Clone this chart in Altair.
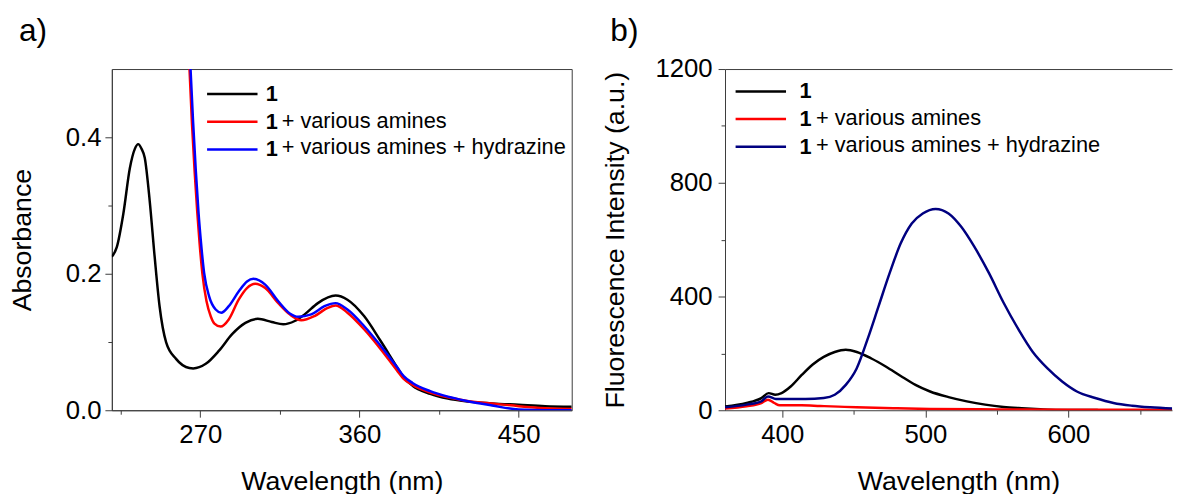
import altair as alt
import pandas as pd

FONT = "Liberation Sans"
AXC = "#3c3c3c"

series_names = ["1", "1 + various amines", "1 + various amines + hydrazine"]
suffix_names = [" ", "+ various amines", "+ various amines + hydrazine"]
colors_a = ["#000000", "#ff0000", "#0000ff"]
colors_b = ["#000000", "#ff0000", "#000080"]

# ---------- panel a: absorbance ----------
a_black_wl = [220, 222.8, 226.5, 230.2, 233, 234.9, 236.8, 238.6, 241.4, 244.2, 247, 250.7,
              256.3, 263.8, 266, 273.1, 280.6, 288, 295.5, 302.5, 310.4, 316.9, 323.4,
              329, 336.5, 346.5, 353.2, 362.6, 371.9, 381.2, 385, 390, 400, 410, 420,
              435, 450, 465, 480]
a_black_abs = [0.225, 0.239, 0.288, 0.355, 0.383, 0.390, 0.383, 0.370, 0.307, 0.225, 0.152,
               0.0995, 0.0753, 0.0618, 0.0613, 0.068, 0.0873, 0.1115, 0.128, 0.134, 0.1293,
               0.126, 0.1308, 0.1405, 0.157, 0.168, 0.162, 0.138, 0.1018, 0.0633, 0.048,
               0.036, 0.024, 0.017, 0.013, 0.010, 0.008, 0.006, 0.005]

a_red_wl = [263.0, 263.9, 265.3, 266.8, 268.3, 269.6, 271.2, 273.5, 276, 278, 281.5, 286.1,
            291.7, 296.4, 301.1, 306.7, 314.1, 320.6, 327.1, 334.6, 342, 346.5, 353.2,
            362.6, 371.9, 381.2, 385, 390, 400, 410, 420, 435, 450, 465, 480]
a_red_abs = [0.56, 0.50, 0.42, 0.35, 0.29, 0.245, 0.200, 0.160, 0.137, 0.127, 0.1226, 0.133,
             0.162, 0.179, 0.1853, 0.179, 0.157, 0.1405, 0.1318, 0.138, 0.150, 0.1535,
             0.143, 0.1187, 0.0898, 0.0584, 0.046, 0.037, 0.026, 0.019, 0.014, 0.010,
             0.006, 0.003, 0.002]

a_blue_wl = [263.6, 264.5, 266.0, 267.5, 269.0, 270.3, 272.2, 275, 278.7, 281.9, 286.1,
             291.7, 296.4, 300.1, 306.7, 314.1, 320.6, 325.3, 332.7, 340.2, 346.5, 353.2,
             362.6, 371.9, 381.2, 385, 390, 400, 410, 420, 435, 450, 465, 480]
a_blue_abs = [0.56, 0.50, 0.42, 0.35, 0.29, 0.249, 0.2008, 0.167, 0.1477, 0.143, 0.1525,
              0.174, 0.1887, 0.1926, 0.184, 0.1597, 0.1419, 0.137, 0.1405, 0.1525, 0.157,
              0.1477, 0.1235, 0.0946, 0.0633, 0.050, 0.040, 0.028, 0.020, 0.014, 0.007,
              0.001, 0.0, 0.0]

# ---------- panel b: fluorescence ----------
b_black_wl = [360, 375.1, 385.4, 390.5, 395.1, 399.5, 405.9, 413.6, 421.3, 429, 436.7,
              444.4, 452.1, 462.3, 472.6, 482.8, 493.1, 503.3, 516.2, 529, 541.8, 554.6,
              567.4, 580.3, 593, 620, 650, 674]
b_black_int = [13, 25.5, 42.9, 60.2, 54.4, 60.2, 83.4, 124, 161, 187.7, 205, 213, 205, 182,
               153, 120.5, 89.2, 66, 46.3, 31.3, 19.7, 11.6, 7, 3.5, 1.2, 0.5, 0, 0]

b_red_wl = [360, 375, 385.4, 390, 394.4, 398.2, 413.6, 426.4, 439.2, 452, 477.7, 503.3,
            550, 600, 650, 674]
b_red_int = [5.8, 13.9, 25.5, 37, 25.5, 17.4, 17.4, 15, 12.7, 10.4, 7, 4.6, 3, 2, 1.5, 1]

b_navy_wl = [360, 375.1, 385.4, 390, 395.6, 400.8, 416.2, 429, 436.7, 444.4, 452, 459.7,
             467.4, 475.1, 482.8, 490.5, 498.2, 507.2, 516.2, 525.1, 534.1, 544.4, 554.6,
             564.9, 575.1, 585.4, 595.6, 605.9, 618.7, 631.5, 644.4, 657.2, 674]
b_navy_int = [10.4, 19.7, 31.3, 48.7, 39.4, 39.4, 39.4, 42.9, 54.4, 89.2, 147, 251, 367,
              483, 587, 657, 692, 708, 692, 645, 576, 483, 379, 286, 205, 147, 101, 66,
              43, 25.5, 16, 10.4, 5.8]


def long_df(parts):
    rows = []
    for k, (wl, val) in enumerate(parts):
        for w, v in zip(wl, val):
            rows.append({"wl": w, "val": v, "series": series_names[k],
                         "suffix": suffix_names[k], "k": k})
    return pd.DataFrame(rows)


df_a = long_df([(a_black_wl, a_black_abs), (a_red_wl, a_red_abs), (a_blue_wl, a_blue_abs)])
df_b = long_df([(b_black_wl, b_black_int), (b_red_wl, b_red_int), (b_navy_wl, b_navy_int)])

LEG_FS = 22
ROWPAD = 5


def legend_main(x, y, sym_off, lab_off):
    # coloured line samples with the bold "1"
    return alt.Legend(orient="none", legendX=x, legendY=y, title=None,
                      symbolType="M-2.55,0H2.55", symbolSize=400, symbolStrokeWidth=2.5,
                      symbolOffset=sym_off, labelOffset=lab_off,
                      labelExpr="'1'", labelFontWeight="bold",
                      labelFontSize=LEG_FS, labelFont=FONT, labelColor="#000000",
                      rowPadding=ROWPAD, labelLimit=0, padding=0)


def legend_suffix(x, y):
    # the rest of each legend text, in normal weight
    return alt.Legend(orient="none", legendX=x, legendY=y, title=None,
                      symbolType="circle", symbolSize=1, symbolOpacity=0,
                      symbolStrokeWidth=0, labelOffset=0,
                      labelFontSize=LEG_FS, labelFont=FONT, labelColor="#000000",
                      labelFontWeight="normal",
                      rowPadding=ROWPAD, labelLimit=0, padding=0)


def minor(test, major, minor_len=4):
    return {"condition": {"test": test, "value": minor_len}, "value": major}


def lines(df, colors, xscale, xaxis, yscale, yaxis, leg_main, leg_suf):
    return alt.Chart(df).mark_line(strokeWidth=2.5, interpolate="monotone", clip=True).encode(
        x=alt.X("wl:Q", scale=xscale, axis=xaxis),
        y=alt.Y("val:Q", scale=yscale, axis=yaxis),
        color=alt.Color("series:N", scale=alt.Scale(domain=series_names, range=colors),
                        legend=leg_main),
        opacity=alt.Opacity("suffix:N", scale=alt.Scale(domain=suffix_names, range=[1, 1, 1]),
                            legend=leg_suf),
        order=alt.Order("k:Q"),
    )


xscale_a = alt.Scale(domain=[220, 480], nice=False, zero=False)
yscale_a = alt.Scale(domain=[0, 0.5], nice=False, zero=False)
chart_a = lines(
    df_a, colors_a, xscale_a,
    alt.Axis(values=[225, 270, 315, 360, 405, 450], format="d",
             labelExpr="datum.value % 90 == 0 ? datum.label : ''",
             tickSize=minor("datum.value % 90 != 0", 7),
             title="Wavelength (nm)", labelPadding=5, titlePadding=21),
    yscale_a,
    alt.Axis(values=[0, 0.1, 0.2, 0.3, 0.4], format=".1f",
             labelExpr="round(datum.value * 10) % 2 == 0 ? datum.label : ''",
             tickSize=minor("round(datum.value * 10) % 2 == 1", 7),
             title="Absorbance", labelPadding=4, titlePadding=29),
    legend_main(100, 13.8, 10.3, 22.3),
    legend_suffix(149.7, 14.3),
).properties(
    width=465, height=345,
    title=alt.TitleParams("a)", anchor="start", frame="group", fontSize=32, font=FONT,
                          fontWeight="normal", dx=-94, offset=-4, baseline="alphabetic",
                          color="#000000"),
)

xscale_b = alt.Scale(domain=[360, 672.4], nice=False, zero=False)
yscale_b = alt.Scale(domain=[0, 1200], nice=False, zero=False)
yaxis_b = alt.Axis(values=[0, 200, 400, 600, 800, 1000, 1200], format="d",
                   labelExpr="datum.value % 400 == 0 ? datum.label : ''",
                   tickSize=minor("datum.value % 400 != 0", 7),
                   title="Fluorescence Intensity (a.u.)", labelPadding=6, titlePadding=26)
lines_b = lines(
    df_b, colors_b, xscale_b,
    alt.Axis(values=[400, 450, 500, 550, 600, 650], format="d",
             labelExpr="datum.value % 100 == 0 ? datum.label : ''",
             tickSize=minor("datum.value % 100 != 0", 7),
             title="Wavelength (nm)", labelPadding=5, titlePadding=21, titleX=236),
    yscale_b, yaxis_b,
    legend_main(16, 11.1, 8.7, 27.7),
    legend_suffix(70, 11.6),
)
# top frame line of panel b (its right side runs past the picture edge)
top_frame_b = alt.Chart(df_b).mark_line(opacity=0).encode(
    x=alt.X("wl:Q", scale=xscale_b,
            axis=alt.Axis(orient="top", labels=False, ticks=False, title=None, domain=True)),
    y=alt.Y("val:Q", scale=yscale_b, axis=yaxis_b),
)
chart_b = alt.layer(lines_b, top_frame_b).resolve_axis(x="independent").properties(
    width=452, height=345,
    view=alt.ViewBackground(stroke="transparent"),
    title=alt.TitleParams("b)", anchor="start", frame="group", fontSize=32, font=FONT,
                          fontWeight="normal", dx=-116, offset=-17, baseline="alphabetic",
                          color="#000000"),
)

chart = alt.hconcat(chart_a, chart_b, spacing=28).resolve_scale(
    color="independent", opacity="independent"
).properties(
    padding={"left": 0, "top": 4, "right": 0, "bottom": 0}
).configure(
    font=FONT
).configure_view(
    stroke=AXC, strokeWidth=1
).configure_axis(
    grid=False, domainColor=AXC, tickColor=AXC, domainWidth=1, tickWidth=1,
    labelFont=FONT, titleFont=FONT, labelFontSize=26, titleFontSize=27,
    labelColor="#000000", titleColor="#000000", titleFontWeight="normal",
)

chart.save("out.html", embed_options={"renderer": "svg", "actions": False})
